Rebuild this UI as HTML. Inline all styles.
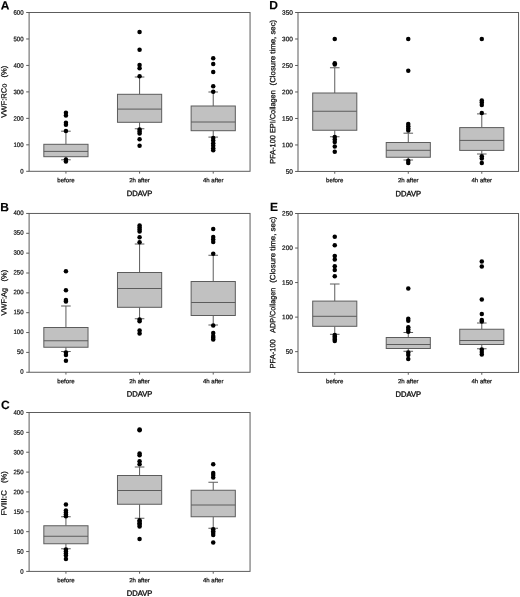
<!DOCTYPE html>
<html><head><meta charset="utf-8"><title>Figure</title>
<style>
html,body{margin:0;padding:0;background:#fff;}
svg{display:block;text-rendering:geometricPrecision;font-family:"Liberation Sans",Arial,sans-serif;}
</style></head><body>
<svg width="520" height="597" viewBox="0 0 520 597">
<rect width="520" height="597" fill="#fff"/>
<rect x="29.10" y="12.50" width="220.95" height="158.80" fill="#fff" stroke="#5c5c5c" stroke-width="1"/>
<text x="0.70" y="9.50" font-size="12" text-anchor="start" font-weight="bold" fill="#000" stroke="#000" stroke-width="0.15" transform="rotate(0.05 0.70 9.50)">A</text>
<line x1="26.20" y1="171.30" x2="29.10" y2="171.30" stroke="#5c5c5c" stroke-width="1"/>
<text x="23.60" y="173.60" font-size="6.5" text-anchor="end" font-weight="normal" fill="#111" stroke="#111" stroke-width="0.22" transform="rotate(0.05 23.60 173.60)" textLength="3.36" lengthAdjust="spacingAndGlyphs">0</text>
<line x1="26.20" y1="144.83" x2="29.10" y2="144.83" stroke="#5c5c5c" stroke-width="1"/>
<text x="23.60" y="147.13" font-size="6.5" text-anchor="end" font-weight="normal" fill="#111" stroke="#111" stroke-width="0.22" transform="rotate(0.05 23.60 147.13)" textLength="10.08" lengthAdjust="spacingAndGlyphs">100</text>
<line x1="26.20" y1="118.37" x2="29.10" y2="118.37" stroke="#5c5c5c" stroke-width="1"/>
<text x="23.60" y="120.67" font-size="6.5" text-anchor="end" font-weight="normal" fill="#111" stroke="#111" stroke-width="0.22" transform="rotate(0.05 23.60 120.67)" textLength="10.08" lengthAdjust="spacingAndGlyphs">200</text>
<line x1="26.20" y1="91.90" x2="29.10" y2="91.90" stroke="#5c5c5c" stroke-width="1"/>
<text x="23.60" y="94.20" font-size="6.5" text-anchor="end" font-weight="normal" fill="#111" stroke="#111" stroke-width="0.22" transform="rotate(0.05 23.60 94.20)" textLength="10.08" lengthAdjust="spacingAndGlyphs">300</text>
<line x1="26.20" y1="65.43" x2="29.10" y2="65.43" stroke="#5c5c5c" stroke-width="1"/>
<text x="23.60" y="67.73" font-size="6.5" text-anchor="end" font-weight="normal" fill="#111" stroke="#111" stroke-width="0.22" transform="rotate(0.05 23.60 67.73)" textLength="10.08" lengthAdjust="spacingAndGlyphs">400</text>
<line x1="26.20" y1="38.97" x2="29.10" y2="38.97" stroke="#5c5c5c" stroke-width="1"/>
<text x="23.60" y="41.27" font-size="6.5" text-anchor="end" font-weight="normal" fill="#111" stroke="#111" stroke-width="0.22" transform="rotate(0.05 23.60 41.27)" textLength="10.08" lengthAdjust="spacingAndGlyphs">500</text>
<line x1="26.20" y1="12.50" x2="29.10" y2="12.50" stroke="#5c5c5c" stroke-width="1"/>
<text x="23.60" y="14.80" font-size="6.5" text-anchor="end" font-weight="normal" fill="#111" stroke="#111" stroke-width="0.22" transform="rotate(0.05 23.60 14.80)" textLength="10.08" lengthAdjust="spacingAndGlyphs">600</text>
<text x="6.60" y="117.80" font-size="7.6" text-anchor="start" font-weight="normal" fill="#111" stroke="#111" stroke-width="0.26" transform="rotate(-89.95 6.60 117.80)" textLength="34.3" lengthAdjust="spacingAndGlyphs">VWF:RCo</text>
<text x="6.60" y="77.50" font-size="7.6" text-anchor="start" font-weight="normal" fill="#111" stroke="#111" stroke-width="0.26" transform="rotate(-89.95 6.60 77.50)" textLength="11.7" lengthAdjust="spacingAndGlyphs">(%)</text>
<line x1="65.93" y1="171.30" x2="65.93" y2="173.60" stroke="#5c5c5c" stroke-width="1"/>
<text x="65.93" y="182.20" font-size="6.1" text-anchor="middle" font-weight="normal" fill="#111" stroke="#111" stroke-width="0.22" transform="rotate(0.05 65.93 182.20)">before</text>
<line x1="65.93" y1="131.20" x2="65.93" y2="144.30" stroke="#5c5c5c" stroke-width="1"/>
<line x1="65.93" y1="156.70" x2="65.93" y2="159.80" stroke="#5c5c5c" stroke-width="1"/>
<line x1="61.13" y1="131.20" x2="70.73" y2="131.20" stroke="#5c5c5c" stroke-width="1"/>
<line x1="61.13" y1="159.80" x2="70.73" y2="159.80" stroke="#5c5c5c" stroke-width="1"/>
<rect x="43.83" y="144.30" width="44.19" height="12.40" fill="#c1c1c1" stroke="#5c5c5c" stroke-width="1"/>
<line x1="43.83" y1="151.40" x2="88.02" y2="151.40" stroke="#5c5c5c" stroke-width="1"/>
<circle cx="65.93" cy="112.80" r="2.25" fill="#000"/>
<circle cx="65.93" cy="115.60" r="2.25" fill="#000"/>
<circle cx="65.93" cy="122.80" r="2.25" fill="#000"/>
<circle cx="65.93" cy="124.80" r="2.25" fill="#000"/>
<circle cx="65.93" cy="131.00" r="2.25" fill="#000"/>
<circle cx="65.93" cy="159.60" r="2.25" fill="#000"/>
<circle cx="65.93" cy="161.50" r="2.25" fill="#000"/>
<line x1="139.58" y1="171.30" x2="139.58" y2="173.60" stroke="#5c5c5c" stroke-width="1"/>
<text x="139.58" y="182.20" font-size="6.1" text-anchor="middle" font-weight="normal" fill="#111" stroke="#111" stroke-width="0.22" transform="rotate(0.05 139.58 182.20)">2h after</text>
<line x1="139.58" y1="77.00" x2="139.58" y2="94.30" stroke="#5c5c5c" stroke-width="1"/>
<line x1="139.58" y1="122.30" x2="139.58" y2="128.75" stroke="#5c5c5c" stroke-width="1"/>
<line x1="134.78" y1="77.00" x2="144.38" y2="77.00" stroke="#5c5c5c" stroke-width="1"/>
<line x1="134.78" y1="128.75" x2="144.38" y2="128.75" stroke="#5c5c5c" stroke-width="1"/>
<rect x="117.48" y="94.30" width="44.19" height="28.00" fill="#c1c1c1" stroke="#5c5c5c" stroke-width="1"/>
<line x1="117.48" y1="109.10" x2="161.67" y2="109.10" stroke="#5c5c5c" stroke-width="1"/>
<circle cx="139.58" cy="32.10" r="2.25" fill="#000"/>
<circle cx="139.58" cy="49.80" r="2.25" fill="#000"/>
<circle cx="139.58" cy="65.00" r="2.25" fill="#000"/>
<circle cx="139.58" cy="68.20" r="2.25" fill="#000"/>
<circle cx="139.58" cy="76.20" r="2.25" fill="#000"/>
<circle cx="139.58" cy="129.50" r="2.25" fill="#000"/>
<circle cx="139.58" cy="131.50" r="2.25" fill="#000"/>
<circle cx="139.58" cy="133.50" r="2.25" fill="#000"/>
<circle cx="139.58" cy="139.25" r="2.25" fill="#000"/>
<circle cx="139.58" cy="145.75" r="2.25" fill="#000"/>
<line x1="213.22" y1="171.30" x2="213.22" y2="173.60" stroke="#5c5c5c" stroke-width="1"/>
<text x="213.22" y="182.20" font-size="6.1" text-anchor="middle" font-weight="normal" fill="#111" stroke="#111" stroke-width="0.22" transform="rotate(0.05 213.22 182.20)">4h after</text>
<line x1="213.22" y1="92.00" x2="213.22" y2="106.00" stroke="#5c5c5c" stroke-width="1"/>
<line x1="213.22" y1="130.70" x2="213.22" y2="137.10" stroke="#5c5c5c" stroke-width="1"/>
<line x1="208.42" y1="92.00" x2="218.03" y2="92.00" stroke="#5c5c5c" stroke-width="1"/>
<line x1="208.42" y1="137.10" x2="218.03" y2="137.10" stroke="#5c5c5c" stroke-width="1"/>
<rect x="191.13" y="106.00" width="44.19" height="24.70" fill="#c1c1c1" stroke="#5c5c5c" stroke-width="1"/>
<line x1="191.13" y1="122.00" x2="235.32" y2="122.00" stroke="#5c5c5c" stroke-width="1"/>
<circle cx="213.22" cy="58.25" r="2.25" fill="#000"/>
<circle cx="213.22" cy="64.00" r="2.25" fill="#000"/>
<circle cx="213.22" cy="72.00" r="2.25" fill="#000"/>
<circle cx="213.22" cy="86.25" r="2.25" fill="#000"/>
<circle cx="213.22" cy="91.80" r="2.25" fill="#000"/>
<circle cx="213.22" cy="138.00" r="2.25" fill="#000"/>
<circle cx="213.22" cy="140.60" r="2.25" fill="#000"/>
<circle cx="213.22" cy="143.20" r="2.25" fill="#000"/>
<circle cx="213.22" cy="145.80" r="2.25" fill="#000"/>
<circle cx="213.22" cy="148.20" r="2.25" fill="#000"/>
<circle cx="213.22" cy="150.30" r="2.25" fill="#000"/>
<text x="139.58" y="196.10" font-size="7.6" text-anchor="middle" font-weight="normal" fill="#111" stroke="#111" stroke-width="0.36" transform="rotate(0.05 139.58 196.10)">DDAVP</text>
<rect x="29.10" y="213.45" width="220.95" height="158.80" fill="#fff" stroke="#5c5c5c" stroke-width="1"/>
<text x="0.30" y="211.30" font-size="12" text-anchor="start" font-weight="bold" fill="#000" stroke="#000" stroke-width="0.15" transform="rotate(0.05 0.30 211.30)">B</text>
<line x1="26.20" y1="372.25" x2="29.10" y2="372.25" stroke="#5c5c5c" stroke-width="1"/>
<text x="23.60" y="373.75" font-size="6.5" text-anchor="end" font-weight="normal" fill="#111" stroke="#111" stroke-width="0.22" transform="rotate(0.05 23.60 373.75)" textLength="3.36" lengthAdjust="spacingAndGlyphs">0</text>
<line x1="26.20" y1="352.40" x2="29.10" y2="352.40" stroke="#5c5c5c" stroke-width="1"/>
<text x="23.60" y="353.90" font-size="6.5" text-anchor="end" font-weight="normal" fill="#111" stroke="#111" stroke-width="0.22" transform="rotate(0.05 23.60 353.90)" textLength="6.72" lengthAdjust="spacingAndGlyphs">50</text>
<line x1="26.20" y1="332.55" x2="29.10" y2="332.55" stroke="#5c5c5c" stroke-width="1"/>
<text x="23.60" y="334.05" font-size="6.5" text-anchor="end" font-weight="normal" fill="#111" stroke="#111" stroke-width="0.22" transform="rotate(0.05 23.60 334.05)" textLength="10.08" lengthAdjust="spacingAndGlyphs">100</text>
<line x1="26.20" y1="312.70" x2="29.10" y2="312.70" stroke="#5c5c5c" stroke-width="1"/>
<text x="23.60" y="314.20" font-size="6.5" text-anchor="end" font-weight="normal" fill="#111" stroke="#111" stroke-width="0.22" transform="rotate(0.05 23.60 314.20)" textLength="10.08" lengthAdjust="spacingAndGlyphs">150</text>
<line x1="26.20" y1="292.85" x2="29.10" y2="292.85" stroke="#5c5c5c" stroke-width="1"/>
<text x="23.60" y="294.35" font-size="6.5" text-anchor="end" font-weight="normal" fill="#111" stroke="#111" stroke-width="0.22" transform="rotate(0.05 23.60 294.35)" textLength="10.08" lengthAdjust="spacingAndGlyphs">200</text>
<line x1="26.20" y1="273.00" x2="29.10" y2="273.00" stroke="#5c5c5c" stroke-width="1"/>
<text x="23.60" y="274.50" font-size="6.5" text-anchor="end" font-weight="normal" fill="#111" stroke="#111" stroke-width="0.22" transform="rotate(0.05 23.60 274.50)" textLength="10.08" lengthAdjust="spacingAndGlyphs">250</text>
<line x1="26.20" y1="253.15" x2="29.10" y2="253.15" stroke="#5c5c5c" stroke-width="1"/>
<text x="23.60" y="254.65" font-size="6.5" text-anchor="end" font-weight="normal" fill="#111" stroke="#111" stroke-width="0.22" transform="rotate(0.05 23.60 254.65)" textLength="10.08" lengthAdjust="spacingAndGlyphs">300</text>
<line x1="26.20" y1="233.30" x2="29.10" y2="233.30" stroke="#5c5c5c" stroke-width="1"/>
<text x="23.60" y="234.80" font-size="6.5" text-anchor="end" font-weight="normal" fill="#111" stroke="#111" stroke-width="0.22" transform="rotate(0.05 23.60 234.80)" textLength="10.08" lengthAdjust="spacingAndGlyphs">350</text>
<line x1="26.20" y1="213.45" x2="29.10" y2="213.45" stroke="#5c5c5c" stroke-width="1"/>
<text x="23.60" y="214.95" font-size="6.5" text-anchor="end" font-weight="normal" fill="#111" stroke="#111" stroke-width="0.22" transform="rotate(0.05 23.60 214.95)" textLength="10.08" lengthAdjust="spacingAndGlyphs">400</text>
<text x="6.60" y="315.40" font-size="7.6" text-anchor="start" font-weight="normal" fill="#111" stroke="#111" stroke-width="0.26" transform="rotate(-89.95 6.60 315.40)" textLength="27.4" lengthAdjust="spacingAndGlyphs">VWF:Ag</text>
<text x="6.60" y="281.40" font-size="7.6" text-anchor="start" font-weight="normal" fill="#111" stroke="#111" stroke-width="0.26" transform="rotate(-89.95 6.60 281.40)" textLength="11.6" lengthAdjust="spacingAndGlyphs">(%)</text>
<line x1="65.93" y1="372.25" x2="65.93" y2="374.55" stroke="#5c5c5c" stroke-width="1"/>
<text x="65.93" y="383.15" font-size="6.1" text-anchor="middle" font-weight="normal" fill="#111" stroke="#111" stroke-width="0.22" transform="rotate(0.05 65.93 383.15)">before</text>
<line x1="65.93" y1="306.00" x2="65.93" y2="327.50" stroke="#5c5c5c" stroke-width="1"/>
<line x1="65.93" y1="347.25" x2="65.93" y2="351.50" stroke="#5c5c5c" stroke-width="1"/>
<line x1="61.13" y1="306.00" x2="70.73" y2="306.00" stroke="#5c5c5c" stroke-width="1"/>
<line x1="61.13" y1="351.50" x2="70.73" y2="351.50" stroke="#5c5c5c" stroke-width="1"/>
<rect x="43.83" y="327.50" width="44.19" height="19.75" fill="#c1c1c1" stroke="#5c5c5c" stroke-width="1"/>
<line x1="43.83" y1="340.75" x2="88.02" y2="340.75" stroke="#5c5c5c" stroke-width="1"/>
<circle cx="65.93" cy="271.25" r="2.25" fill="#000"/>
<circle cx="65.93" cy="290.25" r="2.25" fill="#000"/>
<circle cx="65.93" cy="300.00" r="2.25" fill="#000"/>
<circle cx="65.93" cy="301.50" r="2.25" fill="#000"/>
<circle cx="65.93" cy="352.50" r="2.25" fill="#000"/>
<circle cx="65.93" cy="355.00" r="2.25" fill="#000"/>
<circle cx="65.93" cy="360.75" r="2.25" fill="#000"/>
<line x1="139.58" y1="372.25" x2="139.58" y2="374.55" stroke="#5c5c5c" stroke-width="1"/>
<text x="139.58" y="383.15" font-size="6.1" text-anchor="middle" font-weight="normal" fill="#111" stroke="#111" stroke-width="0.22" transform="rotate(0.05 139.58 383.15)">2h after</text>
<line x1="139.58" y1="244.00" x2="139.58" y2="272.50" stroke="#5c5c5c" stroke-width="1"/>
<line x1="139.58" y1="307.30" x2="139.58" y2="318.75" stroke="#5c5c5c" stroke-width="1"/>
<line x1="134.78" y1="244.00" x2="144.38" y2="244.00" stroke="#5c5c5c" stroke-width="1"/>
<line x1="134.78" y1="318.75" x2="144.38" y2="318.75" stroke="#5c5c5c" stroke-width="1"/>
<rect x="117.48" y="272.50" width="44.19" height="34.80" fill="#c1c1c1" stroke="#5c5c5c" stroke-width="1"/>
<line x1="117.48" y1="288.50" x2="161.67" y2="288.50" stroke="#5c5c5c" stroke-width="1"/>
<circle cx="139.58" cy="225.50" r="2.25" fill="#000"/>
<circle cx="139.58" cy="227.50" r="2.25" fill="#000"/>
<circle cx="139.58" cy="229.50" r="2.25" fill="#000"/>
<circle cx="139.58" cy="231.50" r="2.25" fill="#000"/>
<circle cx="139.58" cy="237.20" r="2.25" fill="#000"/>
<circle cx="139.58" cy="242.20" r="2.25" fill="#000"/>
<circle cx="139.58" cy="319.40" r="2.25" fill="#000"/>
<circle cx="139.58" cy="321.30" r="2.25" fill="#000"/>
<circle cx="139.58" cy="330.60" r="2.25" fill="#000"/>
<circle cx="139.58" cy="333.50" r="2.25" fill="#000"/>
<line x1="213.22" y1="372.25" x2="213.22" y2="374.55" stroke="#5c5c5c" stroke-width="1"/>
<text x="213.22" y="383.15" font-size="6.1" text-anchor="middle" font-weight="normal" fill="#111" stroke="#111" stroke-width="0.22" transform="rotate(0.05 213.22 383.15)">4h after</text>
<line x1="213.22" y1="255.25" x2="213.22" y2="281.50" stroke="#5c5c5c" stroke-width="1"/>
<line x1="213.22" y1="315.50" x2="213.22" y2="325.00" stroke="#5c5c5c" stroke-width="1"/>
<line x1="208.42" y1="255.25" x2="218.03" y2="255.25" stroke="#5c5c5c" stroke-width="1"/>
<line x1="208.42" y1="325.00" x2="218.03" y2="325.00" stroke="#5c5c5c" stroke-width="1"/>
<rect x="191.13" y="281.50" width="44.19" height="34.00" fill="#c1c1c1" stroke="#5c5c5c" stroke-width="1"/>
<line x1="191.13" y1="302.50" x2="235.32" y2="302.50" stroke="#5c5c5c" stroke-width="1"/>
<circle cx="213.22" cy="229.10" r="2.25" fill="#000"/>
<circle cx="213.22" cy="237.00" r="2.25" fill="#000"/>
<circle cx="213.22" cy="239.50" r="2.25" fill="#000"/>
<circle cx="213.22" cy="242.00" r="2.25" fill="#000"/>
<circle cx="213.22" cy="253.75" r="2.25" fill="#000"/>
<circle cx="213.22" cy="325.50" r="2.25" fill="#000"/>
<circle cx="213.22" cy="333.00" r="2.25" fill="#000"/>
<circle cx="213.22" cy="336.00" r="2.25" fill="#000"/>
<circle cx="213.22" cy="337.80" r="2.25" fill="#000"/>
<circle cx="213.22" cy="339.40" r="2.25" fill="#000"/>
<text x="139.58" y="396.55" font-size="7.6" text-anchor="middle" font-weight="normal" fill="#111" stroke="#111" stroke-width="0.36" transform="rotate(0.05 139.58 396.55)">DDAVP</text>
<rect x="29.10" y="412.50" width="220.95" height="158.90" fill="#fff" stroke="#5c5c5c" stroke-width="1"/>
<text x="1.10" y="408.90" font-size="12" text-anchor="start" font-weight="bold" fill="#000" stroke="#000" stroke-width="0.15" transform="rotate(0.05 1.10 408.90)">C</text>
<line x1="26.20" y1="571.40" x2="29.10" y2="571.40" stroke="#5c5c5c" stroke-width="1"/>
<text x="23.60" y="573.70" font-size="6.5" text-anchor="end" font-weight="normal" fill="#111" stroke="#111" stroke-width="0.22" transform="rotate(0.05 23.60 573.70)" textLength="3.36" lengthAdjust="spacingAndGlyphs">0</text>
<line x1="26.20" y1="551.54" x2="29.10" y2="551.54" stroke="#5c5c5c" stroke-width="1"/>
<text x="23.60" y="553.84" font-size="6.5" text-anchor="end" font-weight="normal" fill="#111" stroke="#111" stroke-width="0.22" transform="rotate(0.05 23.60 553.84)" textLength="6.72" lengthAdjust="spacingAndGlyphs">50</text>
<line x1="26.20" y1="531.67" x2="29.10" y2="531.67" stroke="#5c5c5c" stroke-width="1"/>
<text x="23.60" y="533.97" font-size="6.5" text-anchor="end" font-weight="normal" fill="#111" stroke="#111" stroke-width="0.22" transform="rotate(0.05 23.60 533.97)" textLength="10.08" lengthAdjust="spacingAndGlyphs">100</text>
<line x1="26.20" y1="511.81" x2="29.10" y2="511.81" stroke="#5c5c5c" stroke-width="1"/>
<text x="23.60" y="514.11" font-size="6.5" text-anchor="end" font-weight="normal" fill="#111" stroke="#111" stroke-width="0.22" transform="rotate(0.05 23.60 514.11)" textLength="10.08" lengthAdjust="spacingAndGlyphs">150</text>
<line x1="26.20" y1="491.95" x2="29.10" y2="491.95" stroke="#5c5c5c" stroke-width="1"/>
<text x="23.60" y="494.25" font-size="6.5" text-anchor="end" font-weight="normal" fill="#111" stroke="#111" stroke-width="0.22" transform="rotate(0.05 23.60 494.25)" textLength="10.08" lengthAdjust="spacingAndGlyphs">200</text>
<line x1="26.20" y1="472.09" x2="29.10" y2="472.09" stroke="#5c5c5c" stroke-width="1"/>
<text x="23.60" y="474.39" font-size="6.5" text-anchor="end" font-weight="normal" fill="#111" stroke="#111" stroke-width="0.22" transform="rotate(0.05 23.60 474.39)" textLength="10.08" lengthAdjust="spacingAndGlyphs">250</text>
<line x1="26.20" y1="452.23" x2="29.10" y2="452.23" stroke="#5c5c5c" stroke-width="1"/>
<text x="23.60" y="454.52" font-size="6.5" text-anchor="end" font-weight="normal" fill="#111" stroke="#111" stroke-width="0.22" transform="rotate(0.05 23.60 454.52)" textLength="10.08" lengthAdjust="spacingAndGlyphs">300</text>
<line x1="26.20" y1="432.36" x2="29.10" y2="432.36" stroke="#5c5c5c" stroke-width="1"/>
<text x="23.60" y="434.66" font-size="6.5" text-anchor="end" font-weight="normal" fill="#111" stroke="#111" stroke-width="0.22" transform="rotate(0.05 23.60 434.66)" textLength="10.08" lengthAdjust="spacingAndGlyphs">350</text>
<line x1="26.20" y1="412.50" x2="29.10" y2="412.50" stroke="#5c5c5c" stroke-width="1"/>
<text x="23.60" y="414.80" font-size="6.5" text-anchor="end" font-weight="normal" fill="#111" stroke="#111" stroke-width="0.22" transform="rotate(0.05 23.60 414.80)" textLength="10.08" lengthAdjust="spacingAndGlyphs">400</text>
<text x="6.60" y="515.40" font-size="7.6" text-anchor="start" font-weight="normal" fill="#111" stroke="#111" stroke-width="0.26" transform="rotate(-89.95 6.60 515.40)" textLength="25.2" lengthAdjust="spacingAndGlyphs">FVIII:C</text>
<text x="6.60" y="482.90" font-size="7.6" text-anchor="start" font-weight="normal" fill="#111" stroke="#111" stroke-width="0.26" transform="rotate(-89.95 6.60 482.90)" textLength="11.8" lengthAdjust="spacingAndGlyphs">(%)</text>
<line x1="65.93" y1="571.40" x2="65.93" y2="573.70" stroke="#5c5c5c" stroke-width="1"/>
<text x="65.93" y="582.30" font-size="6.1" text-anchor="middle" font-weight="normal" fill="#111" stroke="#111" stroke-width="0.22" transform="rotate(0.05 65.93 582.30)">before</text>
<line x1="65.93" y1="516.75" x2="65.93" y2="525.75" stroke="#5c5c5c" stroke-width="1"/>
<line x1="65.93" y1="543.75" x2="65.93" y2="548.75" stroke="#5c5c5c" stroke-width="1"/>
<line x1="61.13" y1="516.75" x2="70.73" y2="516.75" stroke="#5c5c5c" stroke-width="1"/>
<line x1="61.13" y1="548.75" x2="70.73" y2="548.75" stroke="#5c5c5c" stroke-width="1"/>
<rect x="43.83" y="525.75" width="44.19" height="18.00" fill="#c1c1c1" stroke="#5c5c5c" stroke-width="1"/>
<line x1="43.83" y1="536.25" x2="88.02" y2="536.25" stroke="#5c5c5c" stroke-width="1"/>
<circle cx="65.93" cy="504.50" r="2.25" fill="#000"/>
<circle cx="65.93" cy="510.50" r="2.25" fill="#000"/>
<circle cx="65.93" cy="512.50" r="2.25" fill="#000"/>
<circle cx="65.93" cy="514.50" r="2.25" fill="#000"/>
<circle cx="65.93" cy="516.25" r="2.25" fill="#000"/>
<circle cx="65.93" cy="549.50" r="2.25" fill="#000"/>
<circle cx="65.93" cy="551.50" r="2.25" fill="#000"/>
<circle cx="65.93" cy="553.50" r="2.25" fill="#000"/>
<circle cx="65.93" cy="555.50" r="2.25" fill="#000"/>
<circle cx="65.93" cy="559.00" r="2.25" fill="#000"/>
<line x1="139.58" y1="571.40" x2="139.58" y2="573.70" stroke="#5c5c5c" stroke-width="1"/>
<text x="139.58" y="582.30" font-size="6.1" text-anchor="middle" font-weight="normal" fill="#111" stroke="#111" stroke-width="0.22" transform="rotate(0.05 139.58 582.30)">2h after</text>
<line x1="139.58" y1="467.00" x2="139.58" y2="475.50" stroke="#5c5c5c" stroke-width="1"/>
<line x1="139.58" y1="504.25" x2="139.58" y2="518.25" stroke="#5c5c5c" stroke-width="1"/>
<line x1="134.78" y1="467.00" x2="144.38" y2="467.00" stroke="#5c5c5c" stroke-width="1"/>
<line x1="134.78" y1="518.25" x2="144.38" y2="518.25" stroke="#5c5c5c" stroke-width="1"/>
<rect x="117.48" y="475.50" width="44.19" height="28.75" fill="#c1c1c1" stroke="#5c5c5c" stroke-width="1"/>
<line x1="117.48" y1="490.50" x2="161.67" y2="490.50" stroke="#5c5c5c" stroke-width="1"/>
<circle cx="139.58" cy="429.50" r="2.25" fill="#000"/>
<circle cx="139.58" cy="430.30" r="2.25" fill="#000"/>
<circle cx="139.58" cy="453.50" r="2.25" fill="#000"/>
<circle cx="139.58" cy="455.30" r="2.25" fill="#000"/>
<circle cx="139.58" cy="461.20" r="2.25" fill="#000"/>
<circle cx="139.58" cy="464.20" r="2.25" fill="#000"/>
<circle cx="139.58" cy="520.20" r="2.25" fill="#000"/>
<circle cx="139.58" cy="521.75" r="2.25" fill="#000"/>
<circle cx="139.58" cy="523.30" r="2.25" fill="#000"/>
<circle cx="139.58" cy="524.85" r="2.25" fill="#000"/>
<circle cx="139.58" cy="526.40" r="2.25" fill="#000"/>
<circle cx="139.58" cy="539.00" r="2.25" fill="#000"/>
<line x1="213.22" y1="571.40" x2="213.22" y2="573.70" stroke="#5c5c5c" stroke-width="1"/>
<text x="213.22" y="582.30" font-size="6.1" text-anchor="middle" font-weight="normal" fill="#111" stroke="#111" stroke-width="0.22" transform="rotate(0.05 213.22 582.30)">4h after</text>
<line x1="213.22" y1="482.25" x2="213.22" y2="490.25" stroke="#5c5c5c" stroke-width="1"/>
<line x1="213.22" y1="516.75" x2="213.22" y2="528.25" stroke="#5c5c5c" stroke-width="1"/>
<line x1="208.42" y1="482.25" x2="218.03" y2="482.25" stroke="#5c5c5c" stroke-width="1"/>
<line x1="208.42" y1="528.25" x2="218.03" y2="528.25" stroke="#5c5c5c" stroke-width="1"/>
<rect x="191.13" y="490.25" width="44.19" height="26.50" fill="#c1c1c1" stroke="#5c5c5c" stroke-width="1"/>
<line x1="191.13" y1="505.00" x2="235.32" y2="505.00" stroke="#5c5c5c" stroke-width="1"/>
<circle cx="213.22" cy="464.25" r="2.25" fill="#000"/>
<circle cx="213.22" cy="473.00" r="2.25" fill="#000"/>
<circle cx="213.22" cy="475.00" r="2.25" fill="#000"/>
<circle cx="213.22" cy="477.50" r="2.25" fill="#000"/>
<circle cx="213.22" cy="529.25" r="2.25" fill="#000"/>
<circle cx="213.22" cy="531.15" r="2.25" fill="#000"/>
<circle cx="213.22" cy="533.05" r="2.25" fill="#000"/>
<circle cx="213.22" cy="534.95" r="2.25" fill="#000"/>
<circle cx="213.22" cy="542.50" r="2.25" fill="#000"/>
<text x="139.58" y="595.80" font-size="7.6" text-anchor="middle" font-weight="normal" fill="#111" stroke="#111" stroke-width="0.36" transform="rotate(0.05 139.58 595.80)">DDAVP</text>
<rect x="298.00" y="12.50" width="220.55" height="158.95" fill="#fff" stroke="#5c5c5c" stroke-width="1"/>
<text x="269.30" y="9.30" font-size="12" text-anchor="start" font-weight="bold" fill="#000" stroke="#000" stroke-width="0.15" transform="rotate(0.05 269.30 9.30)">D</text>
<line x1="295.10" y1="171.45" x2="298.00" y2="171.45" stroke="#5c5c5c" stroke-width="1"/>
<text x="292.90" y="173.75" font-size="6.5" text-anchor="end" font-weight="normal" fill="#111" stroke="#111" stroke-width="0.22" transform="rotate(0.05 292.90 173.75)" textLength="7.23" lengthAdjust="spacingAndGlyphs">50</text>
<line x1="295.10" y1="144.96" x2="298.00" y2="144.96" stroke="#5c5c5c" stroke-width="1"/>
<text x="292.90" y="147.26" font-size="6.5" text-anchor="end" font-weight="normal" fill="#111" stroke="#111" stroke-width="0.22" transform="rotate(0.05 292.90 147.26)" textLength="10.84" lengthAdjust="spacingAndGlyphs">100</text>
<line x1="295.10" y1="118.47" x2="298.00" y2="118.47" stroke="#5c5c5c" stroke-width="1"/>
<text x="292.90" y="120.77" font-size="6.5" text-anchor="end" font-weight="normal" fill="#111" stroke="#111" stroke-width="0.22" transform="rotate(0.05 292.90 120.77)" textLength="10.84" lengthAdjust="spacingAndGlyphs">150</text>
<line x1="295.10" y1="91.97" x2="298.00" y2="91.97" stroke="#5c5c5c" stroke-width="1"/>
<text x="292.90" y="94.28" font-size="6.5" text-anchor="end" font-weight="normal" fill="#111" stroke="#111" stroke-width="0.22" transform="rotate(0.05 292.90 94.28)" textLength="10.84" lengthAdjust="spacingAndGlyphs">200</text>
<line x1="295.10" y1="65.48" x2="298.00" y2="65.48" stroke="#5c5c5c" stroke-width="1"/>
<text x="292.90" y="67.78" font-size="6.5" text-anchor="end" font-weight="normal" fill="#111" stroke="#111" stroke-width="0.22" transform="rotate(0.05 292.90 67.78)" textLength="10.84" lengthAdjust="spacingAndGlyphs">250</text>
<line x1="295.10" y1="38.99" x2="298.00" y2="38.99" stroke="#5c5c5c" stroke-width="1"/>
<text x="292.90" y="41.29" font-size="6.5" text-anchor="end" font-weight="normal" fill="#111" stroke="#111" stroke-width="0.22" transform="rotate(0.05 292.90 41.29)" textLength="10.84" lengthAdjust="spacingAndGlyphs">300</text>
<line x1="295.10" y1="12.50" x2="298.00" y2="12.50" stroke="#5c5c5c" stroke-width="1"/>
<text x="292.90" y="14.80" font-size="6.5" text-anchor="end" font-weight="normal" fill="#111" stroke="#111" stroke-width="0.22" transform="rotate(0.05 292.90 14.80)" textLength="10.84" lengthAdjust="spacingAndGlyphs">350</text>
<text x="275.30" y="163.70" font-size="7.6" text-anchor="start" font-weight="normal" fill="#111" stroke="#111" stroke-width="0.26" transform="rotate(-89.95 275.30 163.70)" textLength="73.5" lengthAdjust="spacingAndGlyphs">PFA-100 EPI/Collagen</text>
<text x="275.30" y="85.40" font-size="7.6" text-anchor="start" font-weight="normal" fill="#111" stroke="#111" stroke-width="0.26" transform="rotate(-89.95 275.30 85.40)" textLength="65.6" lengthAdjust="spacingAndGlyphs">(Closure time, sec)</text>
<line x1="334.76" y1="171.45" x2="334.76" y2="173.75" stroke="#5c5c5c" stroke-width="1"/>
<text x="334.76" y="182.35" font-size="6.1" text-anchor="middle" font-weight="normal" fill="#111" stroke="#111" stroke-width="0.22" transform="rotate(0.05 334.76 182.35)">before</text>
<line x1="334.76" y1="67.75" x2="334.76" y2="93.00" stroke="#5c5c5c" stroke-width="1"/>
<line x1="334.76" y1="130.25" x2="334.76" y2="136.75" stroke="#5c5c5c" stroke-width="1"/>
<line x1="329.96" y1="67.75" x2="339.56" y2="67.75" stroke="#5c5c5c" stroke-width="1"/>
<line x1="329.96" y1="136.75" x2="339.56" y2="136.75" stroke="#5c5c5c" stroke-width="1"/>
<rect x="312.70" y="93.00" width="44.11" height="37.25" fill="#c1c1c1" stroke="#5c5c5c" stroke-width="1"/>
<line x1="312.70" y1="111.25" x2="356.81" y2="111.25" stroke="#5c5c5c" stroke-width="1"/>
<circle cx="334.76" cy="39.00" r="2.25" fill="#000"/>
<circle cx="334.76" cy="63.25" r="2.25" fill="#000"/>
<circle cx="334.76" cy="64.50" r="2.25" fill="#000"/>
<circle cx="334.76" cy="137.00" r="2.25" fill="#000"/>
<circle cx="334.76" cy="139.50" r="2.25" fill="#000"/>
<circle cx="334.76" cy="142.00" r="2.25" fill="#000"/>
<circle cx="334.76" cy="146.50" r="2.25" fill="#000"/>
<circle cx="334.76" cy="151.75" r="2.25" fill="#000"/>
<line x1="408.27" y1="171.45" x2="408.27" y2="173.75" stroke="#5c5c5c" stroke-width="1"/>
<text x="408.27" y="182.35" font-size="6.1" text-anchor="middle" font-weight="normal" fill="#111" stroke="#111" stroke-width="0.22" transform="rotate(0.05 408.27 182.35)">2h after</text>
<line x1="408.27" y1="133.20" x2="408.27" y2="142.50" stroke="#5c5c5c" stroke-width="1"/>
<line x1="408.27" y1="157.25" x2="408.27" y2="160.00" stroke="#5c5c5c" stroke-width="1"/>
<line x1="403.47" y1="133.20" x2="413.07" y2="133.20" stroke="#5c5c5c" stroke-width="1"/>
<line x1="403.47" y1="160.00" x2="413.07" y2="160.00" stroke="#5c5c5c" stroke-width="1"/>
<rect x="386.22" y="142.50" width="44.11" height="14.75" fill="#c1c1c1" stroke="#5c5c5c" stroke-width="1"/>
<line x1="386.22" y1="150.30" x2="430.33" y2="150.30" stroke="#5c5c5c" stroke-width="1"/>
<circle cx="408.27" cy="39.00" r="2.25" fill="#000"/>
<circle cx="408.27" cy="70.75" r="2.25" fill="#000"/>
<circle cx="408.27" cy="124.00" r="2.25" fill="#000"/>
<circle cx="408.27" cy="126.20" r="2.25" fill="#000"/>
<circle cx="408.27" cy="128.50" r="2.25" fill="#000"/>
<circle cx="408.27" cy="130.60" r="2.25" fill="#000"/>
<circle cx="408.27" cy="160.75" r="2.25" fill="#000"/>
<circle cx="408.27" cy="163.00" r="2.25" fill="#000"/>
<line x1="481.79" y1="171.45" x2="481.79" y2="173.75" stroke="#5c5c5c" stroke-width="1"/>
<text x="481.79" y="182.35" font-size="6.1" text-anchor="middle" font-weight="normal" fill="#111" stroke="#111" stroke-width="0.22" transform="rotate(0.05 481.79 182.35)">4h after</text>
<line x1="481.79" y1="113.90" x2="481.79" y2="127.60" stroke="#5c5c5c" stroke-width="1"/>
<line x1="481.79" y1="150.40" x2="481.79" y2="154.00" stroke="#5c5c5c" stroke-width="1"/>
<line x1="476.99" y1="113.90" x2="486.59" y2="113.90" stroke="#5c5c5c" stroke-width="1"/>
<line x1="476.99" y1="154.00" x2="486.59" y2="154.00" stroke="#5c5c5c" stroke-width="1"/>
<rect x="459.74" y="127.60" width="44.11" height="22.80" fill="#c1c1c1" stroke="#5c5c5c" stroke-width="1"/>
<line x1="459.74" y1="140.40" x2="503.85" y2="140.40" stroke="#5c5c5c" stroke-width="1"/>
<circle cx="481.79" cy="39.00" r="2.25" fill="#000"/>
<circle cx="481.79" cy="100.40" r="2.25" fill="#000"/>
<circle cx="481.79" cy="102.60" r="2.25" fill="#000"/>
<circle cx="481.79" cy="105.00" r="2.25" fill="#000"/>
<circle cx="481.79" cy="113.00" r="2.25" fill="#000"/>
<circle cx="481.79" cy="156.30" r="2.25" fill="#000"/>
<circle cx="481.79" cy="158.50" r="2.25" fill="#000"/>
<circle cx="481.79" cy="163.00" r="2.25" fill="#000"/>
<text x="408.27" y="196.15" font-size="7.6" text-anchor="middle" font-weight="normal" fill="#111" stroke="#111" stroke-width="0.36" transform="rotate(0.05 408.27 196.15)">DDAVP</text>
<rect x="298.00" y="213.50" width="220.55" height="158.95" fill="#fff" stroke="#5c5c5c" stroke-width="1"/>
<text x="270.00" y="211.00" font-size="12" text-anchor="start" font-weight="bold" fill="#000" stroke="#000" stroke-width="0.15" transform="rotate(0.05 270.00 211.00)">E</text>
<line x1="295.10" y1="351.65" x2="298.00" y2="351.65" stroke="#5c5c5c" stroke-width="1"/>
<text x="292.90" y="353.75" font-size="6.5" text-anchor="end" font-weight="normal" fill="#111" stroke="#111" stroke-width="0.22" transform="rotate(0.05 292.90 353.75)" textLength="7.23" lengthAdjust="spacingAndGlyphs">50</text>
<line x1="295.10" y1="317.11" x2="298.00" y2="317.11" stroke="#5c5c5c" stroke-width="1"/>
<text x="292.90" y="319.21" font-size="6.5" text-anchor="end" font-weight="normal" fill="#111" stroke="#111" stroke-width="0.22" transform="rotate(0.05 292.90 319.21)" textLength="10.84" lengthAdjust="spacingAndGlyphs">100</text>
<line x1="295.10" y1="282.57" x2="298.00" y2="282.57" stroke="#5c5c5c" stroke-width="1"/>
<text x="292.90" y="284.67" font-size="6.5" text-anchor="end" font-weight="normal" fill="#111" stroke="#111" stroke-width="0.22" transform="rotate(0.05 292.90 284.67)" textLength="10.84" lengthAdjust="spacingAndGlyphs">150</text>
<line x1="295.10" y1="248.04" x2="298.00" y2="248.04" stroke="#5c5c5c" stroke-width="1"/>
<text x="292.90" y="250.14" font-size="6.5" text-anchor="end" font-weight="normal" fill="#111" stroke="#111" stroke-width="0.22" transform="rotate(0.05 292.90 250.14)" textLength="10.84" lengthAdjust="spacingAndGlyphs">200</text>
<line x1="295.10" y1="213.50" x2="298.00" y2="213.50" stroke="#5c5c5c" stroke-width="1"/>
<text x="292.90" y="215.60" font-size="6.5" text-anchor="end" font-weight="normal" fill="#111" stroke="#111" stroke-width="0.22" transform="rotate(0.05 292.90 215.60)" textLength="10.84" lengthAdjust="spacingAndGlyphs">250</text>
<text x="275.30" y="368.50" font-size="7.6" text-anchor="start" font-weight="normal" fill="#111" stroke="#111" stroke-width="0.26" transform="rotate(-89.95 275.30 368.50)" textLength="29.3" lengthAdjust="spacingAndGlyphs">PFA-100</text>
<text x="275.30" y="332.70" font-size="7.6" text-anchor="start" font-weight="normal" fill="#111" stroke="#111" stroke-width="0.26" transform="rotate(-89.95 275.30 332.70)" textLength="45" lengthAdjust="spacingAndGlyphs">ADP/Collagen</text>
<text x="275.30" y="282.80" font-size="7.6" text-anchor="start" font-weight="normal" fill="#111" stroke="#111" stroke-width="0.26" transform="rotate(-89.95 275.30 282.80)" textLength="66.3" lengthAdjust="spacingAndGlyphs">(Closure time, sec)</text>
<line x1="334.76" y1="372.45" x2="334.76" y2="374.75" stroke="#5c5c5c" stroke-width="1"/>
<text x="334.76" y="383.35" font-size="6.1" text-anchor="middle" font-weight="normal" fill="#111" stroke="#111" stroke-width="0.22" transform="rotate(0.05 334.76 383.35)">before</text>
<line x1="334.76" y1="284.00" x2="334.76" y2="301.10" stroke="#5c5c5c" stroke-width="1"/>
<line x1="334.76" y1="326.30" x2="334.76" y2="334.30" stroke="#5c5c5c" stroke-width="1"/>
<line x1="329.96" y1="284.00" x2="339.56" y2="284.00" stroke="#5c5c5c" stroke-width="1"/>
<line x1="329.96" y1="334.30" x2="339.56" y2="334.30" stroke="#5c5c5c" stroke-width="1"/>
<rect x="312.70" y="301.10" width="44.11" height="25.20" fill="#c1c1c1" stroke="#5c5c5c" stroke-width="1"/>
<line x1="312.70" y1="316.30" x2="356.81" y2="316.30" stroke="#5c5c5c" stroke-width="1"/>
<circle cx="334.76" cy="236.75" r="2.25" fill="#000"/>
<circle cx="334.76" cy="245.25" r="2.25" fill="#000"/>
<circle cx="334.76" cy="256.00" r="2.25" fill="#000"/>
<circle cx="334.76" cy="259.50" r="2.25" fill="#000"/>
<circle cx="334.76" cy="266.25" r="2.25" fill="#000"/>
<circle cx="334.76" cy="270.00" r="2.25" fill="#000"/>
<circle cx="334.76" cy="276.25" r="2.25" fill="#000"/>
<circle cx="334.76" cy="335.00" r="2.25" fill="#000"/>
<circle cx="334.76" cy="336.50" r="2.25" fill="#000"/>
<circle cx="334.76" cy="338.00" r="2.25" fill="#000"/>
<circle cx="334.76" cy="339.50" r="2.25" fill="#000"/>
<circle cx="334.76" cy="341.00" r="2.25" fill="#000"/>
<line x1="408.27" y1="372.45" x2="408.27" y2="374.75" stroke="#5c5c5c" stroke-width="1"/>
<text x="408.27" y="383.35" font-size="6.1" text-anchor="middle" font-weight="normal" fill="#111" stroke="#111" stroke-width="0.22" transform="rotate(0.05 408.27 383.35)">2h after</text>
<line x1="408.27" y1="332.50" x2="408.27" y2="337.50" stroke="#5c5c5c" stroke-width="1"/>
<line x1="408.27" y1="348.50" x2="408.27" y2="351.25" stroke="#5c5c5c" stroke-width="1"/>
<line x1="403.47" y1="332.50" x2="413.07" y2="332.50" stroke="#5c5c5c" stroke-width="1"/>
<line x1="403.47" y1="351.25" x2="413.07" y2="351.25" stroke="#5c5c5c" stroke-width="1"/>
<rect x="386.22" y="337.50" width="44.11" height="11.00" fill="#c1c1c1" stroke="#5c5c5c" stroke-width="1"/>
<line x1="386.22" y1="344.50" x2="430.33" y2="344.50" stroke="#5c5c5c" stroke-width="1"/>
<circle cx="408.27" cy="288.50" r="2.25" fill="#000"/>
<circle cx="408.27" cy="318.75" r="2.25" fill="#000"/>
<circle cx="408.27" cy="320.75" r="2.25" fill="#000"/>
<circle cx="408.27" cy="327.30" r="2.25" fill="#000"/>
<circle cx="408.27" cy="329.50" r="2.25" fill="#000"/>
<circle cx="408.27" cy="331.80" r="2.25" fill="#000"/>
<circle cx="408.27" cy="352.50" r="2.25" fill="#000"/>
<circle cx="408.27" cy="355.00" r="2.25" fill="#000"/>
<circle cx="408.27" cy="359.00" r="2.25" fill="#000"/>
<line x1="481.79" y1="372.45" x2="481.79" y2="374.75" stroke="#5c5c5c" stroke-width="1"/>
<text x="481.79" y="383.35" font-size="6.1" text-anchor="middle" font-weight="normal" fill="#111" stroke="#111" stroke-width="0.22" transform="rotate(0.05 481.79 383.35)">4h after</text>
<line x1="481.79" y1="323.00" x2="481.79" y2="329.25" stroke="#5c5c5c" stroke-width="1"/>
<line x1="481.79" y1="344.50" x2="481.79" y2="348.75" stroke="#5c5c5c" stroke-width="1"/>
<line x1="476.99" y1="323.00" x2="486.59" y2="323.00" stroke="#5c5c5c" stroke-width="1"/>
<line x1="476.99" y1="348.75" x2="486.59" y2="348.75" stroke="#5c5c5c" stroke-width="1"/>
<rect x="459.74" y="329.25" width="44.11" height="15.25" fill="#c1c1c1" stroke="#5c5c5c" stroke-width="1"/>
<line x1="459.74" y1="340.50" x2="503.85" y2="340.50" stroke="#5c5c5c" stroke-width="1"/>
<circle cx="481.79" cy="261.50" r="2.25" fill="#000"/>
<circle cx="481.79" cy="266.50" r="2.25" fill="#000"/>
<circle cx="481.79" cy="299.50" r="2.25" fill="#000"/>
<circle cx="481.79" cy="314.00" r="2.25" fill="#000"/>
<circle cx="481.79" cy="320.00" r="2.25" fill="#000"/>
<circle cx="481.79" cy="321.50" r="2.25" fill="#000"/>
<circle cx="481.79" cy="349.50" r="2.25" fill="#000"/>
<circle cx="481.79" cy="352.00" r="2.25" fill="#000"/>
<circle cx="481.79" cy="354.50" r="2.25" fill="#000"/>
<text x="408.27" y="396.75" font-size="7.6" text-anchor="middle" font-weight="normal" fill="#111" stroke="#111" stroke-width="0.36" transform="rotate(0.05 408.27 396.75)">DDAVP</text>
</svg>
</body></html>
